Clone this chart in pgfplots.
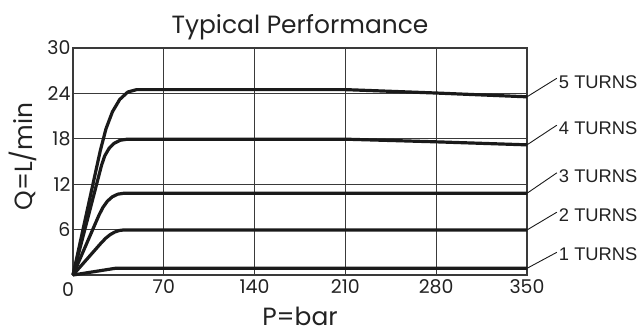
\documentclass[border=0pt]{standalone}
\usepackage{pgfplots}
\pgfplotsset{compat=1.18}
\usepackage{fontspec}
\setmainfont{Poppins}
\newfontfamily\turnfont{Liberation Sans}
\definecolor{ink}{HTML}{1A1A1A}
\definecolor{gridc}{HTML}{3A3A3A}
\definecolor{txt}{HTML}{222222}
\begin{document}
\begin{tikzpicture}
\useasboundingbox (-73bp,-59bp) rectangle (570bp,275bp);
\begin{axis}[
  scale only axis,
  width=454bp, height=227bp,
  xmin=0, xmax=350, ymin=0, ymax=30,
  xtick={0,70,140,210,280,350},
  xticklabels={,70,140,210,280,350},
  ytick={0,6,12,18,24,30},
  yticklabels={,6,12,18,24,30},
  major tick length=0pt,
  grid=major,
  major grid style={gridc, line width=1.1bp},
  axis line style={gridc, line width=1.2bp},
  clip=false,
  /pgf/number format/assume math mode=true,
  tick label style={font=\fontsize{19}{22}\selectfont, text=txt},
  xticklabel style={yshift=-1bp},
  yticklabel style={xshift=1bp},
  title={Typical Performance},
  title style={font=\fontsize{25}{28}\selectfont, text=txt, at={(axis description cs:0.5,1)}, anchor=base, inner sep=0pt, yshift=9bp},
  xlabel={P=bar},
  xlabel style={font=\fontsize{25}{28}\selectfont, text=txt, at={(axis description cs:0.5,-0.2245)}, anchor=base, inner sep=0pt},
  ylabel={Q=L/min},
  ylabel style={font=\fontsize{25}{28}\selectfont, text=txt, at={(axis description cs:-0.0903,0.522)}, anchor=base, inner sep=0pt},
]
% 5 TURNS
\addplot[ink, line width=3.2bp, line join=round] coordinates {
(0,0) (21,16.4) (25.42,19.32) (30.42,21.58) (36.02,23.20) (42.22,24.18) (49,24.5) (210,24.5) (280,24.05) (350,23.55)};
% 4 TURNS
\addplot[ink, line width=3.2bp, line join=round] coordinates {
(0,0) (22,14.5) (24.46,15.74) (27.70,16.71) (31.70,17.40) (36.46,17.81) (42,17.95) (210,17.95) (280,17.6) (350,17.2)};
% 3 TURNS
\addplot[ink, line width=3.2bp, line join=round] coordinates {
(0,0) (20,7.9) (23.10,8.94) (26.54,9.76) (30.34,10.34) (34.50,10.68) (39,10.8) (350,10.8)};
% 2 TURNS
\addplot[ink, line width=3.2bp, line join=round] coordinates {
(0,0) (22,4.29) (25.40,4.89) (28.80,5.35) (32.20,5.68) (35.60,5.88) (39,5.95) (350,5.95)};
% 1 TURNS
\addplot[ink, line width=3.2bp, line join=round] coordinates {
(0,0) (32.4,0.88) (350,0.88)};
% leaders and labels
\draw[ink, line width=0.9bp] (axis cs:350,23.55) -- (axis cs:373,26.0);
\draw[ink, line width=0.9bp] (axis cs:350,17.2) -- (axis cs:373,19.8);
\draw[ink, line width=0.9bp] (axis cs:350,10.8) -- (axis cs:373,13.5);
\draw[ink, line width=0.9bp] (axis cs:350,5.95) -- (axis cs:373,8.3);
\draw[ink, line width=0.9bp] (axis cs:350,0.88) -- (axis cs:373,3.0);
\tikzset{tl/.style={anchor=west, inner sep=0pt, text=txt, font=\turnfont\fontsize{18.4}{21}\selectfont}}
\node[tl] at (axis cs:374.5,25.5) {5 TURNS};
\node[tl] at (axis cs:374.5,19.4) {4 TURNS};
\node[tl] at (axis cs:374.5,13.1) {3 TURNS};
\node[tl] at (axis cs:374.5,7.9) {2 TURNS};
\node[tl] at (axis cs:374.5,2.7) {1 TURNS};
\node[anchor=north, inner sep=0pt, text=txt, font=\fontsize{19}{22}\selectfont] at (axis cs:0,0) [xshift=-5bp, yshift=-7bp] {0};
\end{axis}
\end{tikzpicture}
\end{document}
